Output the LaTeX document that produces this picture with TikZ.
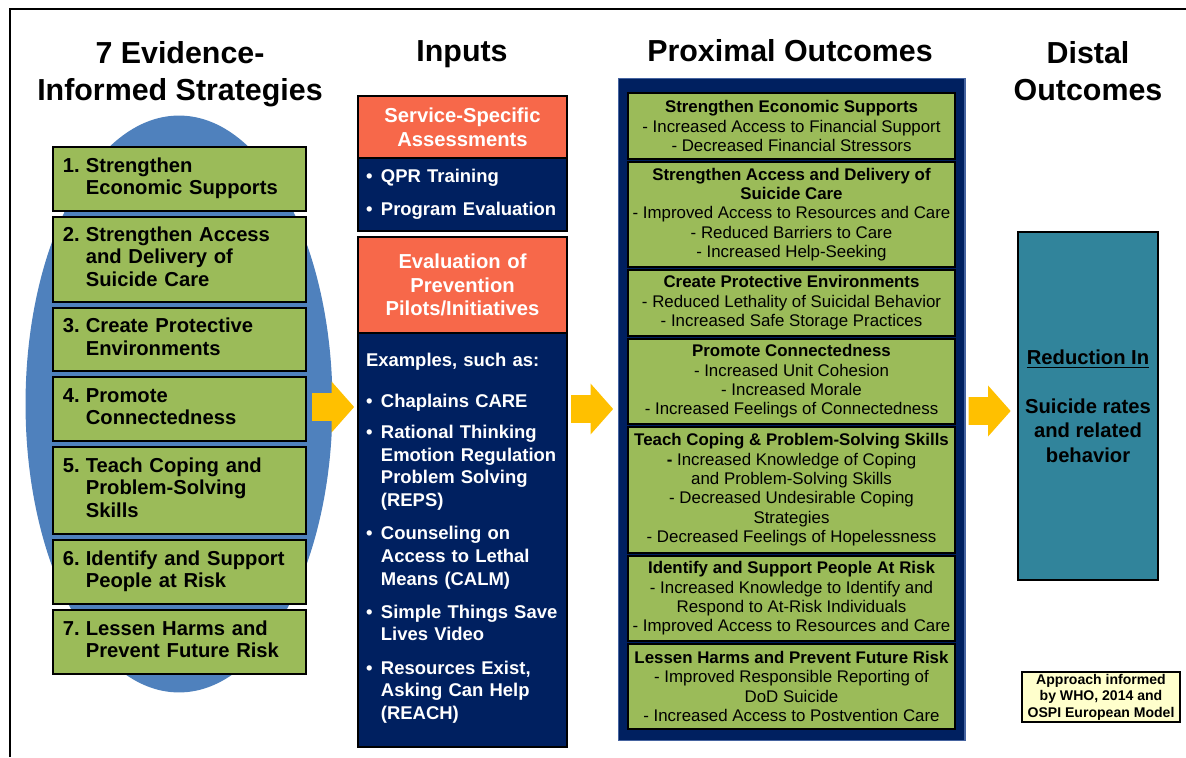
\documentclass[tikz,border=0pt]{standalone}
\usepackage{fontspec}
\setmainfont{Liberation Sans}
\usepackage{xcolor}
\usepackage{tikz}
\usetikzlibrary{positioning, shapes.geometric, shapes.arrows}
\definecolor{ovalblue}{RGB}{79,129,189}
\definecolor{leaf}{RGB}{155,187,89}
\definecolor{navy}{RGB}{0,32,96}
\definecolor{panelline}{RGB}{70,100,160}
\definecolor{coral}{RGB}{247,104,74}
\definecolor{amber}{RGB}{255,192,0}
\definecolor{tealbox}{RGB}{49,132,155}
\definecolor{cream}{RGB}{255,255,204}
\newcommand{\numbered}[2]{\makebox[13pt][l]{#1.}\begin{tabular}[t]{@{}l@{}}#2\end{tabular}}
\newcommand{\bul}[1]{\makebox[8.5pt][l]{\textbullet}\begin{tabular}[t]{@{}l@{}}#1\end{tabular}}

\begin{document}
\begin{tikzpicture}[x=0.02cm, y=-0.02cm,
    title/.style={font=\fontsize{17.3}{21}\selectfont\bfseries, align=center},
    oval/.style={ellipse, fill=ovalblue, minimum width=6.14cm, minimum height=11.54cm, inner sep=0pt},
    strategy/.style={draw, line width=1.1pt, outer sep=0pt, fill=leaf, minimum width=5.06cm, text width=4.66cm, inner xsep=0.2cm, align=left, font=\fontsize{11.5}{12.8}\selectfont\bfseries},
    inhead/.style={draw, line width=1.1pt, outer sep=0pt, fill=coral, text=white, minimum width=4.18cm, text width=3.9cm, inner xsep=0.14cm, align=center, font=\fontsize{11.5}{13.6}\selectfont\bfseries},
    inlist/.style={draw, line width=1.1pt, outer sep=0pt, fill=navy, text=white, minimum width=4.18cm, text width=3.86cm, inner xsep=0.16cm, align=left, font=\fontsize{10.5}{12.9}\selectfont\bfseries},
    panel/.style={draw=panelline, line width=0.6pt, fill=navy, minimum width=6.94cm, minimum height=13.26cm},
    outcome/.style={draw, line width=0.9pt, outer sep=0pt, fill=leaf, minimum width=6.54cm, inner sep=1pt, align=center, font=\fontsize{9.6}{11}\selectfont},
    distal/.style={draw, line width=1.1pt, fill=tealbox, minimum width=2.8cm, minimum height=6.96cm, align=center, font=\fontsize{11.5}{13.9}\selectfont\bfseries},
    note/.style={draw, line width=1pt, fill=cream, minimum width=3.16cm, minimum height=1.0cm, inner sep=1pt, align=center, font=\fontsize{8}{9.4}\selectfont\bfseries},
    flow/.style={single arrow, fill=amber, minimum height=0.84cm, single arrow head extend=0.23cm, single arrow tip angle=97, inner xsep=0pt, inner ysep=0.27cm}
    ]
\useasboundingbox (0,0) rectangle (1186,757);
\draw[line width=1.2pt] (10,757) |- (1186,9);

\node[title] (tst) at (180,74) {7 Evidence-\\Informed Strategies};
\node[title, anchor=base] (tin) at (462,62) {Inputs};
\node[title, anchor=base] (tpx) at (790,62) {Proximal Outcomes};
\node[title] (tds) at (1088,71) {Distal\\Outcomes};

\node[oval] (oval) at (179,404) {};
\node[strategy, minimum height=1.28cm, anchor=north west] (s1) at (53,147) {\numbered{1}{Strengthen\\Economic Supports}};
\node[strategy, minimum height=1.70cm, below=1.2mm of s1] (s2) {\numbered{2}{Strengthen Access\\and Delivery of\\Suicide Care}};
\node[strategy, minimum height=1.26cm, below=1.2mm of s2] (s3) {\numbered{3}{Create Protective\\Environments}};
\node[strategy, minimum height=1.28cm, below=1.2mm of s3] (s4) {\numbered{4}{Promote\\Connectedness}};
\node[strategy, minimum height=1.74cm, below=1.2mm of s4] (s5) {\numbered{5}{Teach Coping and\\Problem-Solving\\Skills}};
\node[strategy, minimum height=1.28cm, below=1.2mm of s5] (s6) {\numbered{6}{Identify and Support\\People at Risk}};
\node[strategy, minimum height=1.28cm, below=1.2mm of s6] (s7) {\numbered{7}{Lessen Harms and\\Prevent Future Risk}};

\node[inhead, minimum height=1.24cm, anchor=north] (h1) at (462.5,96) {Service-Specific\\Assessments};
\node[inlist, minimum height=1.46cm, below=0pt of h1] (l1) {\bul{QPR Training}\\[6pt]\bul{Program Evaluation}};
\node[inhead, minimum height=1.92cm, below=1.2mm of l1] (h2) {Evaluation of\\Prevention\\Pilots/Initiatives};
\node[inlist, minimum height=8.28cm, below=0pt of h2] (l2) {Examples, such as:\\[10pt]
  \bul{Chaplains CARE}\\[5pt]
  \bul{Rational Thinking\\Emotion Regulation\\Problem Solving\\(REPS)}\\[5pt]
  \bul{Counseling on\\Access to Lethal\\Means (CALM)}\\[5pt]
  \bul{Simple Things Save\\Lives Video}\\[5pt]
  \bul{Resources Exist,\\Asking Can Help\\(REACH)}};

\node[panel] (pnl) at (791.5,409.5) {};
\node[outcome, minimum height=1.32cm, anchor=north] (o1) at (791.5,93) {\textbf{Strengthen Economic Supports}\\- Increased Access to Financial Support\\- Decreased Financial Stressors};
\node[outcome, minimum height=2.10cm, below=0.6mm of o1] (o2) {\textbf{Strengthen Access and Delivery of}\\\textbf{Suicide Care}\\- Improved Access to Resources and Care\\- Reduced Barriers to Care\\- Increased Help-Seeking};
\node[outcome, minimum height=1.32cm, below=0.6mm of o2] (o3) {\textbf{Create Protective Environments}\\- Reduced Lethality of Suicidal Behavior\\- Increased Safe Storage Practices};
\node[outcome, minimum height=1.70cm, below=0.6mm of o3] (o4) {\textbf{Promote Connectedness}\\- Increased Unit Cohesion\\- Increased Morale\\- Increased Feelings of Connectedness};
\node[outcome, minimum height=2.52cm, below=0.6mm of o4] (o5) {\textbf{Teach Coping \& Problem-Solving Skills}\\\textbf{-} Increased Knowledge of Coping\\and Problem-Solving Skills\\- Decreased Undesirable Coping\\Strategies\\- Decreased Feelings of Hopelessness};
\node[outcome, minimum height=1.70cm, below=0.6mm of o5] (o6) {\textbf{Identify and Support People At Risk}\\- Increased Knowledge to Identify and\\Respond to At-Risk Individuals\\- Improved Access to Resources and Care};
\node[outcome, minimum height=1.70cm, below=0.6mm of o6] (o7) {\textbf{Lessen Harms and Prevent Future Risk}\\- Improved Responsible Reporting of\\DoD Suicide\\- Increased Access to Postvention Care};

\node[distal] (red) at (1088,406) {\underline{Reduction In}\\[14pt]Suicide rates\\and related\\behavior};
\node[note] (src) at (1101,697) {Approach informed\\by WHO, 2014 and\\OSPI European Model};

\node[flow] (a1) at (327,407) {};
\node[flow] (a2) at (586,409) {};
\node[flow] (a3) at (983.5,411) {};
\end{tikzpicture}
\end{document}
